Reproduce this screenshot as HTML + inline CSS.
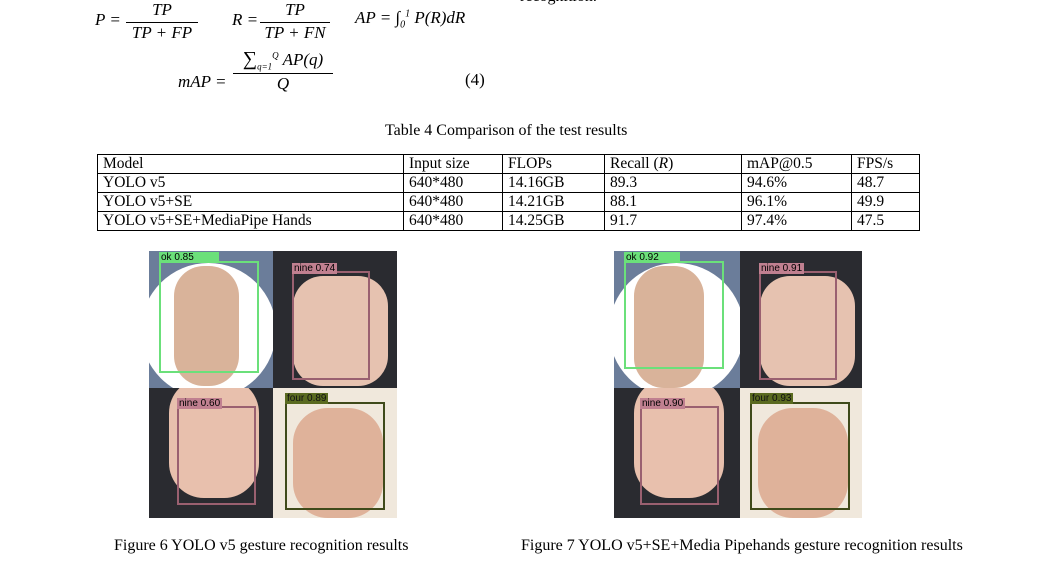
<!DOCTYPE html>
<html><head><meta charset="utf-8"><style>
body{margin:0;width:1055px;height:571px;background:#fff;position:relative;overflow:hidden;font-family:"Liberation Serif",serif;color:#000}
.a{position:absolute}
.m{font-style:italic;font-size:17px;white-space:nowrap}
.frac{position:absolute;text-align:center;font-style:italic;font-size:17px}
.frac .n{border-bottom:1px solid #000;padding:0 2px 2px}
table{position:absolute;left:97px;top:154px;width:823px;border-collapse:collapse;font-size:15.5px}
td{border:1px solid #000;padding:0 0 0 5px;height:18px;line-height:18px}
.q{position:absolute;overflow:hidden}
.box{position:absolute;border:2px solid}
.lab{position:absolute;font-family:"Liberation Sans",sans-serif;font-size:10px;line-height:11px;padding:0 2px;white-space:nowrap}
.cap{position:absolute;font-size:16px;white-space:nowrap}
</style></head><body>
<div class="a" style="left:520px;top:-12px;font-size:16px">recognition.</div>
<div class="a m" style="left:95px;top:10px">P =</div>
<div class="frac" style="left:126px;top:0px;width:72px"><div class="n">TP</div><div>TP + FP</div></div>
<div class="a m" style="left:232px;top:10px">R =</div>
<div class="frac" style="left:260px;top:0px;width:70px"><div class="n">TP</div><div>TP + FN</div></div>
<div class="a m" style="left:355px;top:8px">AP = ∫<sub style="font-size:10px">0</sub><sup style="font-size:10px">1</sup> P(R)dR</div>
<div class="a m" style="left:178px;top:72px">mAP =</div>
<div class="frac" style="left:233px;top:48px;width:100px"><div class="n"><span style="font-style:normal;font-size:20px">∑</span><sub style="font-size:9px">q=1</sub><sup style="font-size:9px">Q</sup> AP(q)</div><div>Q</div></div>
<div class="a" style="left:465px;top:70px;font-size:17px">(4)</div>
<div class="a" style="left:385px;top:122px;font-size:16px">Table 4 Comparison of the test results</div>
<table>
<colgroup><col style="width:306px"><col style="width:99px"><col style="width:102px"><col style="width:137px"><col style="width:110px"><col></colgroup>
<tr><td>Model</td><td>Input size</td><td>FLOPs</td><td>Recall (<i>R</i>)</td><td>mAP@0.5</td><td>FPS/s</td></tr>
<tr><td>YOLO v5</td><td>640*480</td><td>14.16GB</td><td>89.3</td><td>94.6%</td><td>48.7</td></tr>
<tr><td>YOLO v5+SE</td><td>640*480</td><td>14.21GB</td><td>88.1</td><td>96.1%</td><td>49.9</td></tr>
<tr><td>YOLO v5+SE+MediaPipe Hands</td><td>640*480</td><td>14.25GB</td><td>91.7</td><td>97.4%</td><td>47.5</td></tr>
</table>

<div class="a" style="left:149px;top:251px;width:248px;height:267px">
 <div class="q" style="left:0;top:0;width:124px;height:137px;background:#6b7d9a">
  <div class="a" style="left:-8px;top:12px;width:135px;height:135px;border-radius:50%;background:#fff"></div>
  <div class="a" style="left:25px;top:15px;width:65px;height:120px;border-radius:30px;background:#d9b39a"></div>
  <div class="box" style="left:10px;top:10px;width:96px;height:108px;border-color:#6be07a"></div>
  <div class="lab" style="left:10px;top:1px;background:#6be07a;width:56px">ok 0.85</div>
 </div>
 <div class="q" style="left:124px;top:0;width:124px;height:137px;background:#2a2b30">
  <div class="a" style="left:20px;top:25px;width:95px;height:110px;border-radius:30px;background:#e6c2b0"></div>
  <div class="box" style="left:19px;top:20px;width:74px;height:105px;border-color:#9a6070"></div>
  <div class="lab" style="left:19px;top:12px;background:#c08090">nine 0.74</div>
 </div>
 <div class="q" style="left:0;top:137px;width:124px;height:130px;background:#2a2b30">
  <div class="a" style="left:20px;top:-10px;width:90px;height:120px;border-radius:35px;background:#e8c0ad"></div>
  <div class="box" style="left:28px;top:18px;width:75px;height:95px;border-color:#9a6070"></div>
  <div class="lab" style="left:28px;top:10px;background:#c08090">nine 0.60</div>
 </div>
 <div class="q" style="left:124px;top:137px;width:124px;height:130px;background:#f0e8dc">
  <div class="a" style="left:20px;top:20px;width:90px;height:110px;border-radius:35px;background:#dfb29a"></div>
  <div class="box" style="left:12px;top:14px;width:96px;height:104px;border-color:#3f4a1a"></div>
  <div class="lab" style="left:12px;top:5px;background:#5a6a20;color:#111">four 0.89</div>
 </div>
</div>

<div class="a" style="left:614px;top:251px;width:248px;height:267px">
 <div class="q" style="left:0;top:0;width:126px;height:137px;background:#6b7d9a">
  <div class="a" style="left:-5px;top:12px;width:135px;height:135px;border-radius:50%;background:#fff"></div>
  <div class="a" style="left:20px;top:15px;width:70px;height:122px;border-radius:30px;background:#d9b39a"></div>
  <div class="box" style="left:10px;top:10px;width:96px;height:104px;border-color:#6be07a"></div>
  <div class="lab" style="left:10px;top:1px;background:#6be07a;width:52px">ok 0.92</div>
 </div>
 <div class="q" style="left:126px;top:0;width:122px;height:137px;background:#2a2b30">
  <div class="a" style="left:20px;top:25px;width:95px;height:110px;border-radius:30px;background:#e6c2b0"></div>
  <div class="box" style="left:19px;top:20px;width:74px;height:105px;border-color:#9a6070"></div>
  <div class="lab" style="left:19px;top:12px;background:#c08090">nine 0.91</div>
 </div>
 <div class="q" style="left:0;top:137px;width:126px;height:130px;background:#2a2b30">
  <div class="a" style="left:20px;top:-10px;width:90px;height:120px;border-radius:35px;background:#e8c0ad"></div>
  <div class="box" style="left:26px;top:18px;width:75px;height:95px;border-color:#9a6070"></div>
  <div class="lab" style="left:26px;top:10px;background:#c08090">nine 0.90</div>
 </div>
 <div class="q" style="left:126px;top:137px;width:122px;height:130px;background:#f0e8dc">
  <div class="a" style="left:18px;top:20px;width:90px;height:110px;border-radius:35px;background:#dfb29a"></div>
  <div class="box" style="left:10px;top:14px;width:96px;height:104px;border-color:#3f4a1a"></div>
  <div class="lab" style="left:10px;top:5px;background:#5a6a20;color:#111">four 0.93</div>
 </div>
</div>

<div class="cap" style="left:114px;top:537px">Figure 6 YOLO v5 gesture recognition results</div>
<div class="cap" style="left:521px;top:537px">Figure 7 YOLO v5+SE+Media Pipehands gesture recognition results</div>
</body></html>
